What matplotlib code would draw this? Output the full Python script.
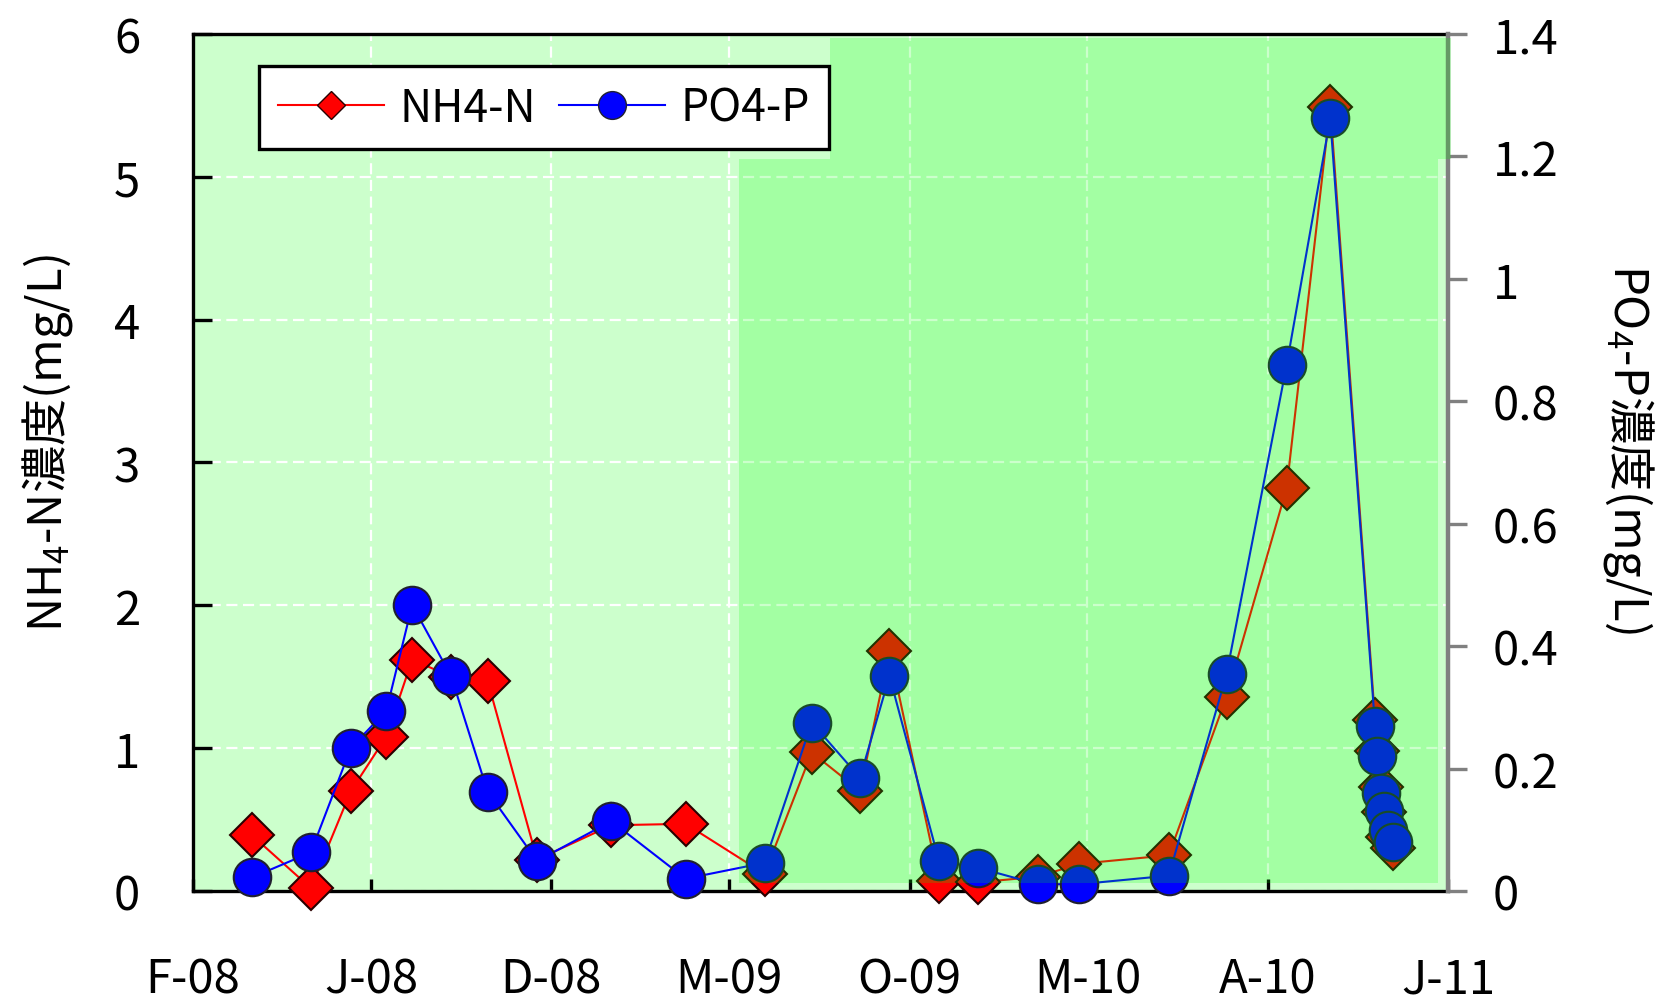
import matplotlib
matplotlib.use('Agg')
import matplotlib.pyplot as plt
import matplotlib.dates as mdates
from matplotlib.lines import Line2D
from matplotlib.patches import Rectangle
from matplotlib.ticker import FixedLocator, FixedFormatter
import numpy as np

plt.rcParams['font.family'] = ['Noto Sans CJK JP', 'DejaVu Sans']
plt.rcParams['mathtext.default'] = 'regular'

# sampling dates and concentrations
sample_dates = ['2008-03-22', '2008-05-11', '2008-06-14', '2008-07-14', '2008-08-05',
                '2008-09-07', '2008-10-08', '2008-11-19', '2009-01-21', '2009-03-25',
                '2009-05-31', '2009-07-10', '2009-08-20', '2009-09-14', '2009-10-26',
                '2009-11-28', '2010-01-18', '2010-02-22', '2010-05-09', '2010-06-27',
                '2010-08-17', '2010-09-23', '2010-10-31', '2010-11-02', '2010-11-05',
                '2010-11-08', '2010-11-11', '2010-11-15']
nh4_n = [0.39, 0.02, 0.70, 1.08, 1.62, 1.50, 1.47, 0.22, 0.46, 0.47,
         0.12, 0.97, 0.70, 1.68, 0.07, 0.06, 0.10, 0.19, 0.25, 1.36,
         2.82, 5.49, 1.20, 0.98, 0.73, 0.55, 0.38, 0.30]
po4_p = [0.022, 0.063, 0.234, 0.294, 0.467, 0.351, 0.162, 0.049, 0.114, 0.020,
         0.046, 0.275, 0.185, 0.351, 0.049, 0.038, 0.011, 0.011, 0.025, 0.354,
         0.859, 1.262, 0.27, 0.22, 0.16, 0.13, 0.10, 0.08]

tick_dates = ['2008-02-01', '2008-07-01', '2008-12-01', '2009-05-01',
              '2009-10-01', '2010-03-01', '2010-08-01', '2011-01-01']
tick_labels = ['F-08', 'J-08', 'D-08', 'M-09', 'O-09', 'M-10', 'A-10', 'J-11']
left_ticks = [0, 1, 2, 3, 4, 5, 6]
right_ticks = [0, 0.2, 0.4, 0.6, 0.8, 1.0, 1.2, 1.4]

x = mdates.date2num(np.array(sample_dates, dtype='datetime64[D]'))
xt = mdates.date2num(np.array(tick_dates, dtype='datetime64[D]'))

fig = plt.figure(figsize=(16.71, 10.03), dpi=100)
ax = fig.add_axes([0.1155, 0.1107, 0.7511, 0.8545])
ax.set_facecolor('#CCFFCC')
ax2 = ax.twinx()

# NH4-N on the left axis, PO4-P on the right axis
ax.plot(x, nh4_n, color='#FF0000', lw=1.5, marker='D', markersize=22,
        markerfacecolor='#FF0000', markeredgecolor='#2a0000', markeredgewidth=1.5,
        clip_on=False, zorder=3)
ax2.plot(x, po4_p, color='#0000FF', lw=1.5, marker='o', markersize=27,
         markerfacecolor='#0000FF', markeredgecolor='#202030', markeredgewidth=1.5,
         clip_on=False, zorder=3)

ax.set_xlim(xt[0], xt[-1])
ax.set_ylim(0, 6)
ax2.set_ylim(0, 1.4)

ax.xaxis.set_major_locator(FixedLocator(xt))
ax.xaxis.set_major_formatter(FixedFormatter(tick_labels))
ax.set_yticks(left_ticks)
ax.set_yticklabels([str(v) for v in left_ticks])
ax2.set_yticks(right_ticks)
ax2.set_yticklabels(['%g' % v for v in right_ticks])

ax.set_axisbelow(True)
ax.grid(True, color='white', lw=1.6, linestyle=(0, (5, 2.5)))

ax.tick_params(axis='y', direction='in', length=14, width=2.4, pad=38,
               labelsize=34, colors='black')
ax.tick_params(axis='x', direction='in', length=9, width=2.4, pad=46,
               labelsize=34)
ax2.tick_params(axis='y', direction='out', length=14, width=2.4, pad=18,
                labelsize=34, color='#808080', labelcolor='black')

for s in ['left', 'bottom', 'top']:
    ax.spines[s].set_linewidth(2.4)
    ax.spines[s].set_color('black')
    ax2.spines[s].set_visible(False)
ax.spines['right'].set_visible(False)
ax2.spines['right'].set_color('#808080')
ax2.spines['right'].set_linewidth(3.2)

ax.set_ylabel('NH$_4$-N濃度(mg/L)', fontsize=34)
ax.yaxis.set_label_coords(-0.094, 0.524)
ax2.set_ylabel('PO$_4$-P濃度(mg/L)', fontsize=34, rotation=-90)
ax2.yaxis.set_label_coords(1.166, 0.517)

# translucent green shading over the later period
ax2.add_patch(Rectangle((0.435, 0.0093), 0.557, 0.845, transform=ax2.transAxes,
                        facecolor=(0, 1, 0, 0.2), edgecolor='none', zorder=5))
ax2.add_patch(Rectangle((0.5076, 0.854), 0.4948, 0.1413, transform=ax2.transAxes,
                        facecolor=(0, 1, 0, 0.2), edgecolor='none', zorder=5,
                        clip_on=False))

handles = [
    Line2D([], [], color='#FF0000', lw=1.5, marker='D', markersize=14,
           markerfacecolor='#FF0000', markeredgecolor='#2a0000', markeredgewidth=1),
    Line2D([], [], color='#0000FF', lw=1.5, marker='o', markersize=20,
           markerfacecolor='#0000FF', markeredgecolor='#202030', markeredgewidth=1),
]
leg = ax2.legend(handles, ['NH4-N', 'PO4-P'], loc='upper left',
                 bbox_to_anchor=(0.0526, 0.9627), borderaxespad=0, ncol=2,
                 fontsize=32, frameon=True, fancybox=False, framealpha=1,
                 edgecolor='black', handlelength=2.4, handletextpad=0.35,
                 columnspacing=0.5, borderpad=0.42)
leg.get_frame().set_linewidth(2.4)
leg.set_zorder(10)

fig.savefig('out.png', dpi=100)
